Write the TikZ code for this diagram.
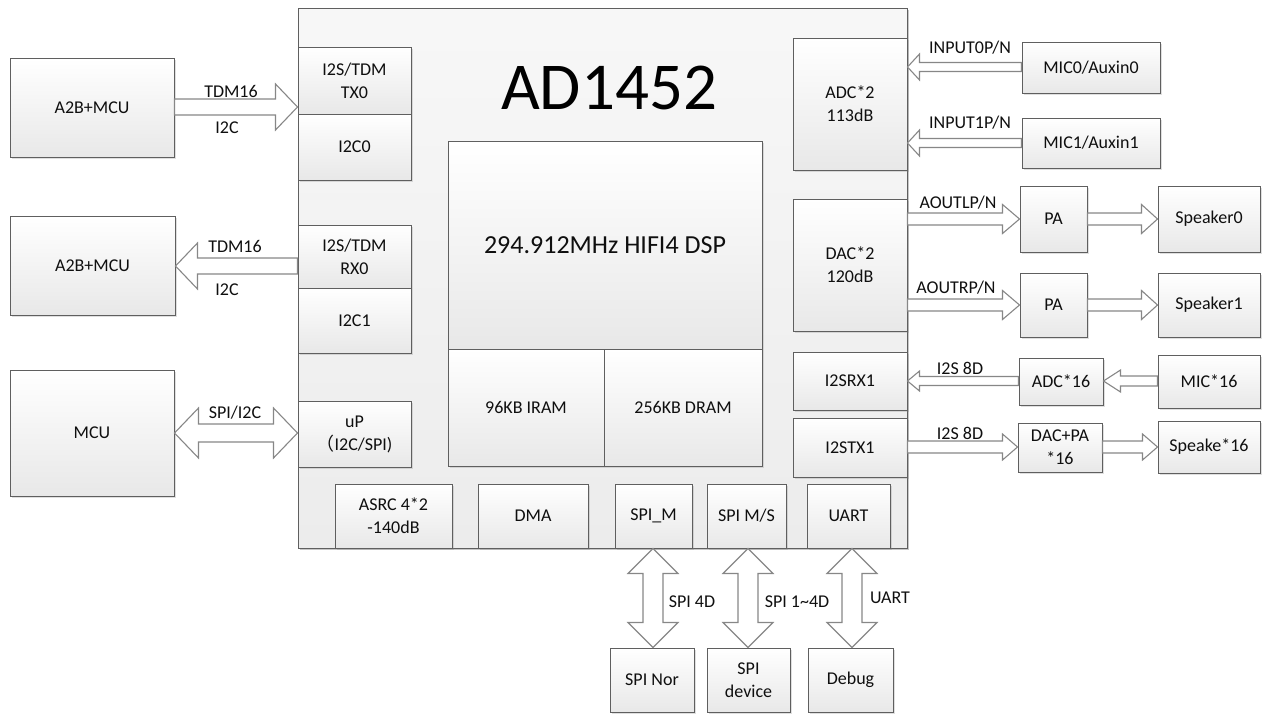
\documentclass[tikz,border=0pt]{standalone}
\usepackage{fontspec}
\setmainfont{Carlito}
\newfontfamily\cjk{Noto Sans CJK SC}
\usetikzlibrary{calc,shadows}
\definecolor{boxline}{RGB}{95,95,95}
\definecolor{arrline}{RGB}{135,135,135}
\definecolor{boxfill}{RGB}{232,232,232}
\definecolor{chipfill}{RGB}{236,236,236}
\definecolor{txt}{RGB}{15,15,15}
\tikzset{
  box/.style={draw=boxline, line width=1pt, top color=white, bottom color=boxfill,
    drop shadow={shadow xshift=2pt, shadow yshift=-2pt, opacity=0.25},
    inner sep=0pt, align=center, font=\fontsize{18}{23}\selectfont, text=txt},
  chipbox/.style={box, top color=white!60!chipfill, bottom color=chipfill},
  barrow/.style={draw=arrline, line width=1.1pt, fill=white, line join=miter},
  lbl/.style={font=\fontsize{18}{22}\selectfont, text=txt, inner sep=0pt},
}
% box: [opts] name, x1, y1, x2, y2, text
\newcommand\pbox[7][]{\node[box,#1,minimum width={#5-#3},minimum height={#6-#4}] (#2) at ({(#3+#5)/2},{(#4+#6)/2}) {#7};}
% single horizontal block arrow: tail, tip, shaft half, head half, head length
\newcommand\harr[5]{\draw[barrow] let \p1=(#1), \p2=(#2), \n1={ifthenelse(\x2>\x1,1,-1)} in
  (\x1,{\y1+#3pt}) -- ({\x2-\n1*#5pt},{\y1+#3pt}) -- ({\x2-\n1*#5pt},{\y1+#4pt}) -- (\x2,\y1)
  -- ({\x2-\n1*#5pt},{\y1-#4pt}) -- ({\x2-\n1*#5pt},{\y1-#3pt}) -- (\x1,{\y1-#3pt}) -- cycle;}
% double horizontal block arrow
\newcommand\hdarr[5]{\draw[barrow] let \p1=(#1), \p2=(#2), \n1={ifthenelse(\x2>\x1,1,-1)} in
  (\x1,\y1) -- ({\x1+\n1*#5pt},{\y1+#4pt}) -- ({\x1+\n1*#5pt},{\y1+#3pt}) -- ({\x2-\n1*#5pt},{\y1+#3pt})
  -- ({\x2-\n1*#5pt},{\y1+#4pt}) -- (\x2,\y1) -- ({\x2-\n1*#5pt},{\y1-#4pt}) -- ({\x2-\n1*#5pt},{\y1-#3pt})
  -- ({\x1+\n1*#5pt},{\y1-#3pt}) -- ({\x1+\n1*#5pt},{\y1-#4pt}) -- cycle;}
% double vertical block arrow
\newcommand\vdarr[5]{\draw[barrow] let \p1=(#1), \p2=(#2), \n1={ifthenelse(\y2>\y1,1,-1)} in
  (\x1,\y1) -- ({\x1+#4pt},{\y1+\n1*#5pt}) -- ({\x1+#3pt},{\y1+\n1*#5pt}) -- ({\x1+#3pt},{\y2-\n1*#5pt})
  -- ({\x1+#4pt},{\y2-\n1*#5pt}) -- (\x1,\y2) -- ({\x1-#4pt},{\y2-\n1*#5pt}) -- ({\x1-#3pt},{\y2-\n1*#5pt})
  -- ({\x1-#3pt},{\y1+\n1*#5pt}) -- ({\x1-#4pt},{\y1+\n1*#5pt}) -- cycle;}
\begin{document}
\begin{tikzpicture}[x=1pt,y=-1pt]
\useasboundingbox (0,0) rectangle (1266,718);
% main chip
\pbox[chipbox]{chip}{298}{8}{907}{548}{}
\node[lbl, font=\fontsize{67}{70}\selectfont, text=black] (title) at (609,88) {AD1452};
% left external
\pbox{a2bA}{10}{58}{174}{157}{A2B+MCU}
\pbox{a2bB}{10}{216}{175}{315}{A2B+MCU}
\pbox{mcu}{10}{370}{174}{496}{MCU}
% chip left column
\pbox{tx0}{298}{47}{411}{114}{I2S/TDM\\TX0}
\pbox{i2c0}{298}{114}{411}{180}{I2C0}
\pbox{rx0}{298}{225}{411}{288}{I2S/TDM\\RX0}
\pbox{i2c1}{298}{288}{411}{353}{I2C1}
\pbox{up}{298}{401}{411}{467}{uP\\{\cjk （}I2C/SPI)}
% core
\pbox[font=\fontsize{26}{30}\selectfont]{dsp}{448}{141}{762}{349}{294.912MHz HIFI4 DSP}
\pbox{iram}{448}{349}{604}{466}{96KB IRAM}
\pbox{dram}{604}{349}{762}{466}{256KB DRAM}
% bottom row
\pbox{asrc}{335}{484}{452}{548}{ASRC 4*2\\-140dB}
\pbox{dma}{478}{484}{588}{548}{DMA}
\pbox{spim}{615}{484}{692}{548}{SPI\_M}
\pbox{spims}{707}{484}{786}{548}{SPI M/S}
\pbox{uart}{807}{484}{890}{548}{UART}
% right column of chip
\pbox{adc2}{793}{38}{907}{170}{ADC*2\\113dB}
\pbox{dac2}{793}{199}{907}{331}{DAC*2\\120dB}
\pbox{i2srx}{793}{352}{907}{410}{I2SRX1}
\pbox{i2stx}{793}{418}{907}{477}{I2STX1}
% right external
\pbox{mic0}{1022}{42}{1160}{93}{MIC0/Auxin0}
\pbox{mic1}{1022}{118}{1160}{168}{MIC1/Auxin1}
\pbox{pa1}{1020}{186}{1087}{252}{PA}
\pbox{pa2}{1020}{273}{1087}{337}{PA}
\pbox{spk0}{1158}{186}{1260}{252}{Speaker0}
\pbox{spk1}{1158}{273}{1260}{337}{Speaker1}
\pbox{adc16}{1019}{358}{1103}{405}{ADC*16}
\pbox{mic16}{1158}{355}{1260}{408}{MIC*16}
\pbox{dacpa}{1018}{423}{1102}{472}{DAC+PA\\*16}
\pbox{spk16}{1158}{421}{1260}{473}{Speake*16}
% bottom external
\pbox{spinor}{610}{648}{694}{712}{SPI Nor}
\pbox{spidev}{707}{648}{790}{712}{SPI\\device}
\pbox{debug}{808}{648}{893}{712}{Debug}
% arrow levels
\coordinate (yA) at (0,107);
\coordinate (yB) at (0,266);
\coordinate (yC) at (0,433);
\coordinate (yD) at (0,67);
\coordinate (yE) at (0,143);
\coordinate (yF) at (0,219);
\coordinate (yG) at (0,305);
\coordinate (yH) at (0,381);
\coordinate (yI) at (0,447);
\coordinate (xA) at (653,0);
\coordinate (xB) at (748,0);
\coordinate (xC) at (852,0);
% left arrows
\harr{a2bA.east|-yA}{tx0.west|-yA}{8}{23}{22}
\harr{rx0.west|-yB}{a2bB.east|-yB}{8}{23}{22}
\hdarr{mcu.east|-yC}{up.west|-yC}{9}{25}{24}
\node[lbl] (l1) at (231,91) {TDM16};
\node[lbl] (l2) at (227,128) {I2C};
\node[lbl] (l3) at (235,246) {TDM16};
\node[lbl] (l4) at (227,290) {I2C};
\node[lbl] (l5) at (235,413) {SPI/I2C};
% right arrows
\harr{mic0.west|-yD}{adc2.east|-yD}{4.5}{13}{12}
\harr{mic1.west|-yE}{adc2.east|-yE}{4.5}{13}{12}
\harr{dac2.east|-yF}{pa1.west|-yF}{6}{14.5}{17}
\harr{pa1.east|-yF}{spk0.west|-yF}{6}{14.5}{16}
\harr{dac2.east|-yG}{pa2.west|-yG}{6}{14.5}{17}
\harr{pa2.east|-yG}{spk1.west|-yG}{6}{14.5}{16}
\harr{adc16.west|-yH}{i2srx.east|-yH}{4.5}{10}{12}
\harr{mic16.west|-yH}{adc16.east|-yH}{5}{11}{17}
\harr{i2stx.east|-yI}{dacpa.west|-yI}{6}{13}{15}
\harr{dacpa.east|-yI}{spk16.west|-yI}{6}{13}{15}
\node[lbl] (l6) at (970,48) {INPUT0P/N};
\node[lbl] (l7) at (970,123) {INPUT1P/N};
\node[lbl] (l8) at (958,203) {AOUTLP/N};
\node[lbl] (l9) at (956,288) {AOUTRP/N};
\node[lbl] (l10) at (960,368) {I2S 8D};
\node[lbl] (l11) at (960,433) {I2S 8D};
% bottom arrows
\vdarr{spim.south-|xA}{spinor.north-|xA}{10}{25}{25}
\vdarr{spims.south-|xB}{spidev.north-|xB}{10}{25}{25}
\vdarr{uart.south-|xC}{debug.north-|xC}{10}{25}{25}
\node[lbl] (l12) at (692,602) {SPI 4D};
\node[lbl] (l13) at (797,602) {SPI 1\textasciitilde 4D};
\node[lbl] (l14) at (890,598) {UART};
\end{tikzpicture}
\end{document}
